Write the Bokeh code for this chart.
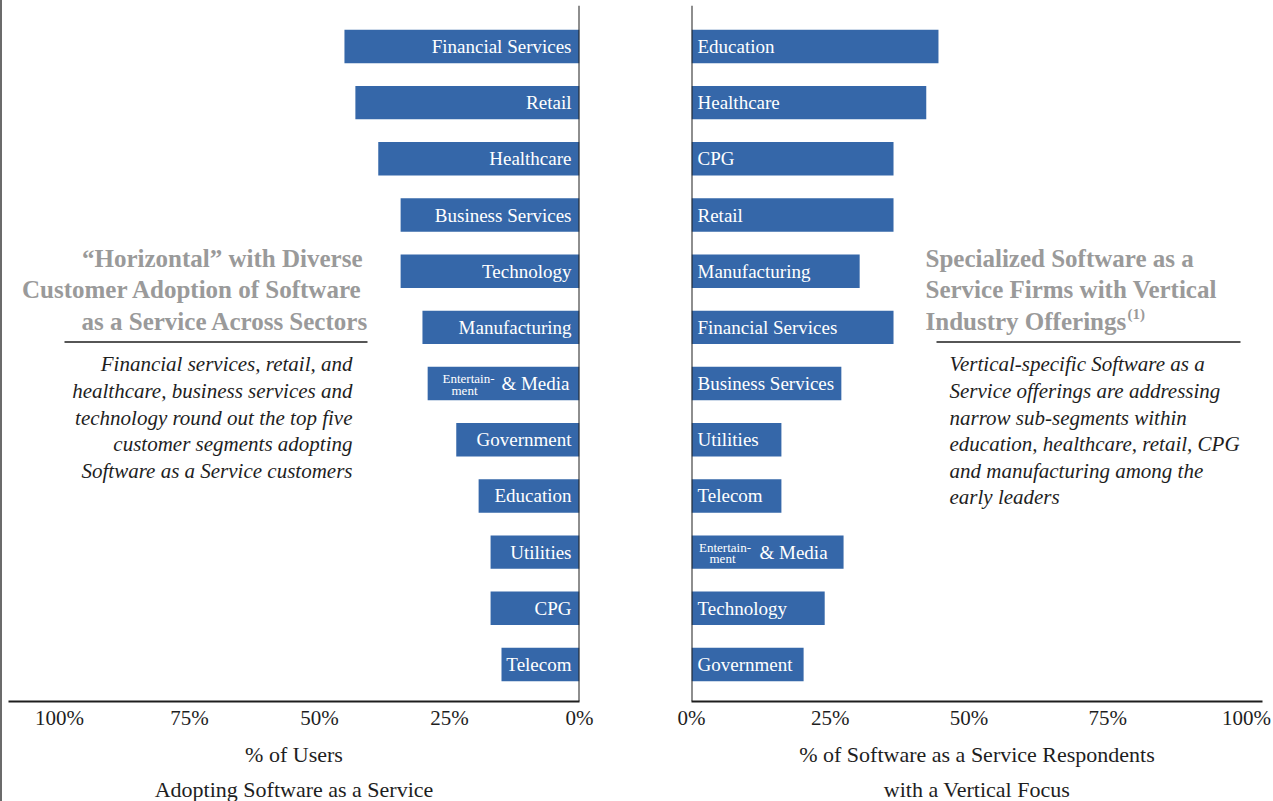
from bokeh.plotting import figure
from bokeh.models import Range1d, Span, Label, FixedTicker, Arrow, Div, ColumnDataSource, Title
from bokeh.layouts import row
from bokeh.core.properties import value
from bokeh.embed import file_html
from bokeh.resources import INLINE

# ---------------- data ----------------
left_categories = ["Financial Services", "Retail", "Healthcare", "Business Services", "Technology",
                   "Manufacturing", "Entertainment & Media", "Government", "Education", "Utilities",
                   "CPG", "Telecom"]
left_values = [45.2, 43.1, 38.7, 34.4, 34.4, 30.2, 29.2, 23.7, 19.4, 17.1, 17.1, 15.0]

right_categories = ["Education", "Healthcare", "CPG", "Retail", "Manufacturing", "Financial Services",
                    "Business Services", "Utilities", "Telecom", "Entertainment & Media", "Technology",
                    "Government"]
right_values = [44.5, 42.3, 36.4, 36.4, 30.3, 36.4, 27.0, 16.2, 16.2, 27.4, 24.0, 20.2]

tick_values = [0, 25, 50, 75, 100]
tick_labels = {0: "0%", 25: "25%", 50: "50%", 75: "75%", 100: "100%"}

left_heading = ["\u201cHorizontal\u201d with Diverse", "Customer Adoption of Software",
                "as a Service Across Sectors"]
left_body = ["Financial services, retail, and", "healthcare, business services and",
             "technology round out the top five", "customer segments adopting",
             "Software as a Service customers"]
left_axis_title = ["% of Users", "Adopting Software as a Service"]

right_heading = ["Specialized Software as a", "Service Firms with Vertical", "Industry Offerings"]
right_footnote = "(1)"
right_body = ["Vertical-specific Software as a", "Service offerings are addressing",
              "narrow sub-segments within", "education, healthcare, retail, CPG",
              "and manufacturing among the", "early leaders"]
right_axis_title = ["% of Software as a Service Respondents", "with a Vertical Focus"]

# ---------------- style ----------------
BAR = "#3567a9"
DARK = "#1e1e1e"
GRAY = "#9a9a9a"
FONT = "Liberation Serif"
H = 801

ROW0, ROWSTEP = 46.0, 56.27
FRAME_TOP, FRAME_BOTTOM = 5, 702


def ly(Y):
    return (Y - ROW0) / ROWSTEP


def base_fig(width, x_range, border_left, border_right):
    p = figure(width=width, height=H, output_backend="svg", toolbar_location=None,
               x_range=x_range, y_range=Range1d(ly(FRAME_BOTTOM), ly(FRAME_TOP)),
               y_axis_location=None, min_border_left=border_left, min_border_right=border_right,
               min_border_top=FRAME_TOP, min_border_bottom=H - FRAME_BOTTOM)
    p.outline_line_color = None
    p.xgrid.visible = False
    p.ygrid.visible = False
    p.background_fill_color = "white"
    p.border_fill_color = "white"
    ax = p.xaxis[0]
    ax.ticker = FixedTicker(ticks=tick_values)
    ax.major_label_overrides = tick_labels
    ax.major_tick_line_color = None
    ax.minor_tick_line_color = None
    ax.major_tick_out = 0
    ax.major_tick_in = 0
    ax.axis_line_color = DARK
    ax.axis_line_width = 2
    ax.major_label_text_font = FONT
    ax.major_label_text_font_size = "21px"
    ax.major_label_text_color = DARK
    ax.major_label_standoff = 4
    return p


def add_bars(p, cats, vals, align, off, media_off, small_offsets):
    main, offs, small = [], [], []
    for i, c in enumerate(cats):
        if c == "Entertainment & Media":
            main.append("& Media")
            offs.append(media_off)
            small.append(i)
        else:
            main.append(c)
            offs.append(off)
    src = ColumnDataSource(dict(y=list(range(len(cats))), v=vals, t=main, o=offs))
    p.hbar(y="y", left=0, right="v", height=0.595, source=src, fill_color=BAR, line_color=None)
    p.text(x=0, y="y", text="t", source=src, x_offset="o", text_align=align,
           text_baseline="middle", text_font=value(FONT), text_font_size="19px",
           text_color="white")
    for r in small:
        for (dx, dy), word in zip(small_offsets, ["Entertain-", "ment"]):
            p.text(x=[0], y=[r], text=[word], x_offset=dx, y_offset=dy, text_align="center",
                   text_baseline="middle", text_font=value(FONT), text_font_size="13px",
                   text_color="white")
    p.add_layout(Span(location=0, dimension="height", line_color=DARK, line_width=2))


def add_titles(p, lines, offsets):
    for i, (line, o) in enumerate(zip(lines, offsets)):
        p.add_layout(Title(text=line, align="center", offset=o, text_font=FONT,
                           text_font_size="22px", text_font_style="normal", text_color=DARK,
                           standoff=15 if i == 0 else 0), "below")


# ---------------- left panel ----------------
LSCALE, L0 = 5.2, 579


def lx(X):
    return (L0 - X) / LSCALE


pl = base_fig(638, Range1d(lx(8), 0), 6, 61)
add_bars(pl, left_categories, left_values, "right", -8, -10, [(-111, -5), (-115, 7)])

for i, line in enumerate(left_heading):
    X = 362 if i < 2 else 368
    pl.add_layout(Label(x=lx(X), y=ly(258 + 31.5 * i), text=line, text_align="right",
                        text_baseline="alphabetic", text_font=FONT, text_font_style="bold",
                        text_font_size="25px", text_color=GRAY))
pl.add_layout(Arrow(end=None, x_start=lx(64), x_end=lx(367), y_start=ly(342), y_end=ly(342),
                    line_color=DARK, line_width=1.5))
for i, line in enumerate(left_body):
    pl.add_layout(Label(x=lx(352), y=ly(364.5 + 26.6 * i), text=line, text_align="right",
                        text_baseline="alphabetic", text_font=FONT, text_font_style="italic",
                        text_font_size="21px", text_color=DARK))
add_titles(pl, left_axis_title, [-1, -4])

# ---------------- right panel ----------------
RSCALE, R0 = 5.55, 691


def rx(X):
    return (X - R0) / RSCALE


pr = base_fig(633, Range1d(0, rx(1262)), 51, 11)
add_bars(pr, right_categories, right_values, "left", 6, 68, [(33.5, -5), (31, 6)])

for i, line in enumerate(right_heading):
    pr.add_layout(Label(x=rx(925), y=ly(258 + 31.5 * i), text=line, text_align="left",
                        text_baseline="alphabetic", text_font=FONT, text_font_style="bold",
                        text_font_size="25px", text_color=GRAY))
pr.add_layout(Label(x=rx(1127), y=ly(314), text=right_footnote, text_align="left",
                    text_baseline="alphabetic", text_font=FONT, text_font_style="bold",
                    text_font_size="15px", text_color=GRAY))
pr.add_layout(Arrow(end=None, x_start=rx(936), x_end=rx(1240), y_start=ly(342), y_end=ly(342),
                    line_color=DARK, line_width=1.5))
for i, line in enumerate(right_body):
    pr.add_layout(Label(x=rx(949), y=ly(364.5 + 26.6 * i), text=line, text_align="left",
                        text_baseline="alphabetic", text_font=FONT, text_font_style="italic",
                        text_font_size="21px", text_color=DARK))
add_titles(pr, right_axis_title, [13, 20])

edge = Div(text="", width=2, height=H, margin=0, styles={"background-color": "#6b6b6b"})
layout = row(edge, pl, pr, spacing=0)
open("out.html", "w").write(file_html(layout, INLINE))
